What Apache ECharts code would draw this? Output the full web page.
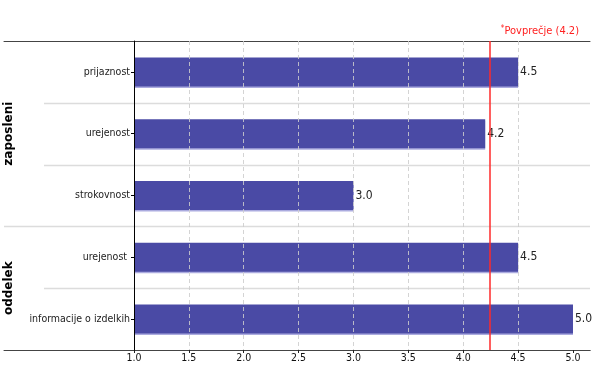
<!DOCTYPE html>
<html><head><meta charset="utf-8">
<script src="https://cdn.jsdelivr.net/npm/echarts@6/dist/echarts.min.js"></script>
<style>html,body{margin:0;padding:0;background:#fff}#c{width:600px;height:390px}</style>
</head><body><div id="c"></div>
<script>
const categories = ['prijaznost', 'urejenost', 'strokovnost', 'urejenost ', 'informacije o izdelkih'];
const values = [4.5, 4.2, 3.0, 4.5, 5.0];
const groups = ['zaposleni', 'oddelek'];
const groupSizes = [3, 2];
const xTicks = [1.0, 1.5, 2.0, 2.5, 3.0, 3.5, 4.0, 4.5, 5.0];
const legendLabel = 'Povprečje';

const avg = values.reduce((a, b) => a + b, 0) / values.length;
const FONT = 'DejaVu Sans';
const FONTC = 'DejaVu Sans Condensed';

const chart = echarts.init(document.getElementById('c'), null, {renderer: 'canvas'});
const option = {
  animation: false,
  backgroundColor: '#fff',
  title: {
    text: '{s|*}' + legendLabel + ' (' + avg.toFixed(1) + ')',
    right: 16, top: 20,
    textStyle: {color: '#ff2020', fontSize: 11, fontWeight: 'normal', fontFamily: FONTC,
      rich: {s: {color: '#ff2020', fontSize: 8, fontFamily: FONTC, verticalAlign: 'top', padding: [0, 0, 4, 0]}}}
  },
  grid: [
    {left: 134, right: 10, top: 41, bottom: 40},
    {left: 4, right: 10, top: 41, bottom: 40}
  ],
  xAxis: [
    {
      type: 'value', gridIndex: 0, min: xTicks[0], max: 5.155, interval: 0.5, z: 3,
      axisLine: {show: true, lineStyle: {color: '#444', width: 1}},
      axisTick: {show: true, customValues: xTicks, length: 3, lineStyle: {color: '#222', width: 1}},
      axisLabel: {customValues: xTicks, color: '#111', fontSize: 10.5, fontFamily: FONTC, margin: 3,
        formatter: v => v.toFixed(1)},
      splitLine: {show: true, showMinLine: false, showMaxLine: false,
        lineStyle: {color: 'rgba(205,205,205,0.85)', type: [4, 3], width: 1}}
    },
    {type: 'value', gridIndex: 1, min: 0, max: 1, position: 'bottom',
      axisLine: {show: true, lineStyle: {color: '#444', width: 1}},
      axisTick: {show: false}, axisLabel: {show: false}, splitLine: {show: false}},
    {type: 'value', gridIndex: 1, min: 0, max: 1, position: 'top',
      axisLine: {show: true, lineStyle: {color: '#444', width: 1}},
      axisTick: {show: false}, axisLabel: {show: false}, splitLine: {show: false}}
  ],
  yAxis: [
    {
      type: 'category', gridIndex: 0, data: categories, inverse: true, z: 4,
      axisLine: {show: true, lineStyle: {color: '#000', width: 1}},
      axisTick: {show: true, alignWithLabel: true, length: 3, lineStyle: {color: '#000'}},
      axisLabel: {color: '#222', fontSize: 10.5, fontFamily: FONTC, margin: 4},
      splitLine: {show: false}
    },
    {type: 'value', gridIndex: 1, show: false, min: 0, max: 1}
  ],
  series: [{
    type: 'bar', xAxisIndex: 0, yAxisIndex: 0, z: 2,
    data: values, barWidth: 29,
    itemStyle: {color: '#4a4aa5', shadowColor: 'rgba(150,150,215,0.8)', shadowOffsetY: 1.5, shadowBlur: 0},
    label: {show: true, position: 'right', distance: 2, color: '#222', fontSize: 12, fontFamily: FONTC,
      formatter: p => p.value.toFixed(1)},
    markLine: {
      silent: true, z: 10, symbol: ['none', 'none'], label: {show: false},
      emphasis: {disabled: true},
      lineStyle: {color: '#ff2a2a', width: 1.5, type: 'solid', opacity: 1,
        shadowBlur: 0, shadowColor: 'rgba(0,0,0,0)', shadowOffsetY: 0},
      data: [{xAxis: avg}]
    }
  }]
};
chart.setOption(option);

// separators and group labels from axis positions
const yc = i => chart.convertToPixel({yAxisIndex: 0}, i);
const xRight = chart.convertToPixel({xAxisIndex: 0}, 5.155);
const graphics = [];
const bounds = [];
for (let i = 0; i < categories.length - 1; i++) bounds.push((yc(i) + yc(i + 1)) / 2);
const groupEnds = [];
let acc = 0;
groupSizes.forEach(s => { acc += s; groupEnds.push(acc - 1); });
bounds.forEach((y, i) => {
  const isGroup = groupEnds.includes(i);
  graphics.push({type: 'line', z: 1, shape: {x1: isGroup ? 4 : 44, y1: Math.round(y) + 0.5, x2: xRight, y2: Math.round(y) + 0.5},
    style: {stroke: '#dcdcdc', lineWidth: 1.5}});
});
let start = 0;
groups.forEach((g, gi) => {
  const end = start + groupSizes[gi] - 1;
  const cy = (yc(start) + yc(end)) / 2;
  graphics.push({type: 'text', x: 9, y: cy, rotation: Math.PI / 2,
    style: {text: g, font: 'bold 12px "DejaVu Sans"', fill: '#000', align: 'center', verticalAlign: 'middle'}});
  start = end + 1;
});
chart.setOption({graphic: graphics});
</script></body></html>
